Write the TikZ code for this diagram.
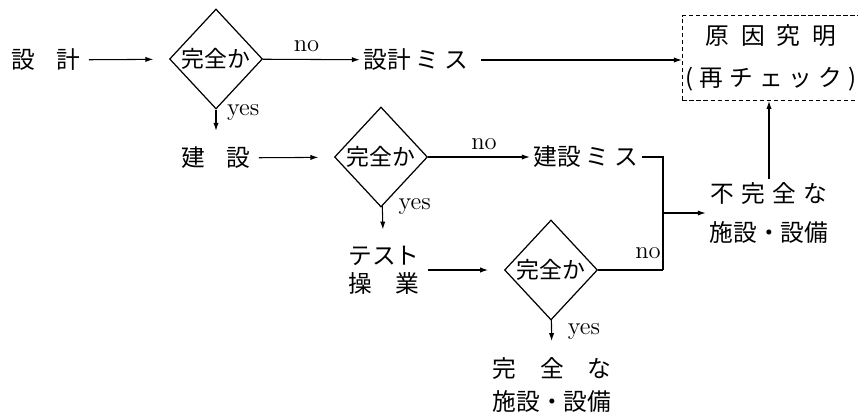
\documentclass[tikz,border=0pt]{standalone}
\usepackage{fontspec}
\newfontfamily\jp{Noto Sans CJK JP}
\usetikzlibrary{shapes.geometric,arrows.meta}

\begin{document}
\begin{tikzpicture}[x=0.02cm,y=-0.02cm,line width=0.6pt,
    jtext/.style={font=\jp\fontsize{13.5}{16}\selectfont,inner sep=2pt,align=center},
    check/.style={draw,diamond,line width=0.7pt,inner sep=0pt,minimum width=1.86cm,minimum height=2cm,font=\jp\fontsize{13}{15}\selectfont},
    tip/.style={-{Latex[length=4.5pt,width=3pt]}},
    feed/.style={tip,shorten >=9pt,shorten <=2.5pt},
    yesarrow/.style={tip,shorten >=7pt},
    ans/.style={font=\fontsize{14}{16}\selectfont,inner sep=1pt}]
    \useasboundingbox (0,0) rectangle (858,419);
    % first row
    \node[jtext] (sekkei) at (46,60) {設\hspace{.9em}計};
    \node[check] (q1) at (216,59) {完全か};
    \node[jtext] (smiss) at (416,60) {設計\hspace{.2em}ミ\hspace{.2em}ス};
    \node[jtext,draw,dash pattern=on 2.5pt off 1.5pt,minimum width=3.4cm,minimum height=1.7cm] (genin) at (771,58)
        {原\hspace{.5em}因\hspace{.5em}究\hspace{.5em}明\\[8pt](\hspace{.25em}再\hspace{.25em}チ\hspace{.25em}ェ\hspace{.25em}ッ\hspace{.25em}ク\hspace{.25em})};
    % second row
    \node[jtext] (kensetsu) at (216,158) {建\hspace{.9em}設};
    \node[check] (q2) at (381,157) {完全か};
    \node[jtext] (kmiss) at (586,157) {建設\hspace{.2em}ミ\hspace{.2em}ス};
    \node[jtext] (fukan) at (769,213) {不\hspace{.3em}完\hspace{.3em}全\hspace{.3em}な\\[6pt]施設・設備};
    % third row
    \node[jtext] (test) at (384,270) {テスト\\操\hspace{1em}業};
    \node[check] (q3) at (551,270) {完全か};
    \node[jtext] (kanzen) at (552,385) {完\hspace{1em}全\hspace{1em}な\\[3pt]施設・設備};
    \coordinate (jt) at (663,157);
    \coordinate (jm) at (663,213);
    \coordinate (jb) at (663,270);

    \draw[feed] (sekkei) -- (q1);
    \draw[tip] (q1) -- node[ans,above=3pt,pos=.45]{no} (smiss);
    \draw[tip,shorten <=5pt] (smiss) -- (smiss -| genin.west);
    \draw[yesarrow] (q1) -- node[ans,right=5pt,pos=.1]{yes} (kensetsu);

    \draw[feed] (kensetsu) -- (q2);
    \draw[tip] (q2) -- node[ans,above=3pt,pos=.55]{no} (kmiss);
    \draw (kmiss) -- (jt) -- (jb);
    \draw[yesarrow] (q2) -- node[ans,right=8pt,pos=0]{yes} (test);

    \draw[feed] (test) -- (q3);
    \draw (q3) -- node[ans,pos=1,anchor=south east,yshift=5pt]{no} (jb);
    \draw[yesarrow] (q3) -- node[ans,right=8pt,pos=.35]{yes} (kanzen);

    \draw[tip] (jm) -- (jm -| fukan.west);
    \draw[tip] (fukan) -- (fukan |- genin.south);
\end{tikzpicture}
\end{document}
